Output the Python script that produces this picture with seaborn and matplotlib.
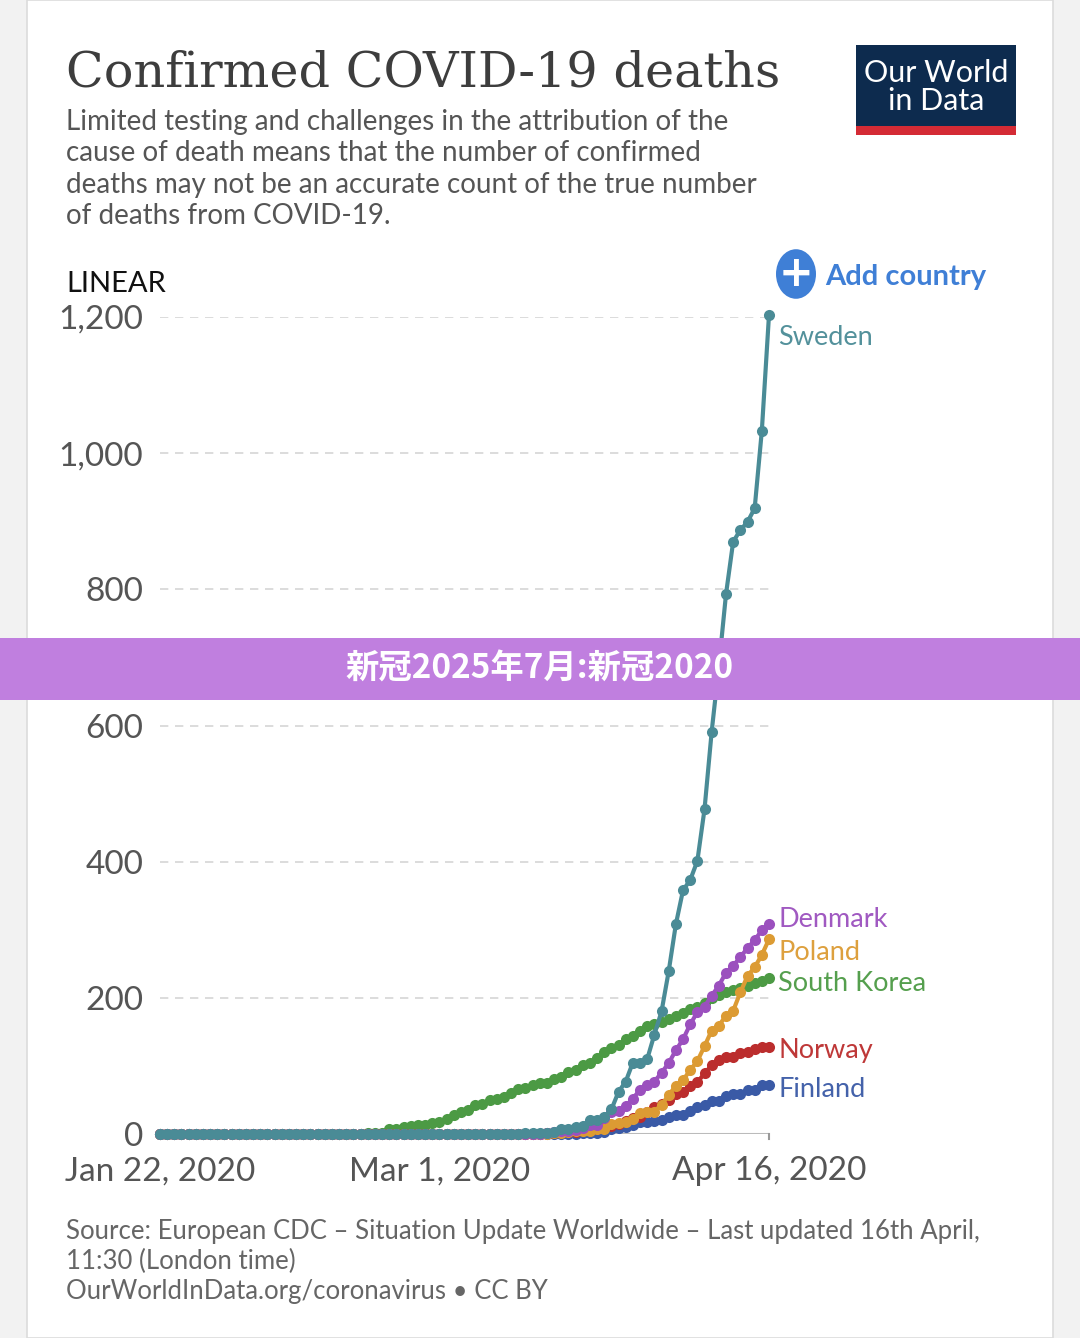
import numpy as np
import pandas as pd
import matplotlib
matplotlib.use("Agg")
import matplotlib.pyplot as plt
from matplotlib.patches import Rectangle
import seaborn as sns

N_DAYS = 86  # Jan 22 .. Apr 16, 2020
x_tick_days = [0, 39, 85]
x_tick_labels = ["Jan 22, 2020", "Mar 1, 2020", "Apr 16, 2020"]
y_ticks = [0, 200, 400, 600, 800, 1000, 1200]
y_tick_labels = ["0", "200", "400", "600", "800", "1,000", "1,200"]

sweden = [0]*51 + [1,1,1,2,3,7,8,10,12,20,21,25,36,62,77,105,105,110,146,180,
                   239,308,358,373,401,477,591,687,793,870,887,899,919,1033,1203]
denmark = [0]*54 + [1,3,4,4,6,9,13,13,24,32,34,41,52,65,72,77,90,104,123,139,
                    161,179,187,203,218,237,247,260,273,285,299,309]
poland = [0]*55 + [1,2,3,5,5,5,7,8,14,16,18,22,31,32,33,43,57,71,79,94,107,129,
                   152,159,174,181,208,232,245,263,286]
south_korea = [0]*29 + [1,2,2,7,8,11,12,13,13,16,17,22,28,32,35,42,44,50,51,54,60,
                        66,67,72,75,75,81,84,91,94,102,104,111,120,126,131,139,144,
                        152,158,162,165,169,174,177,183,186,192,200,204,208,211,214,
                        217,222,225,229]
norway = [0]*54 + [1,1,3,3,3,6,7,7,10,12,14,19,23,25,32,39,44,50,59,62,71,76,89,
                   101,108,113,113,119,120,125,128,128]
finland = [0]*59 + [1,1,1,3,7,9,11,13,17,17,19,20,25,28,28,34,40,42,48,49,56,59,
                    59,64,64,72,72]

countries = ["South Korea", "Finland", "Norway", "Poland", "Denmark", "Sweden"]
series = [south_korea, finland, norway, poland, denmark, sweden]
colors = {"Sweden": "#4a8b96", "Denmark": "#9b50be", "Poland": "#dc9b33",
          "South Korea": "#4c9a44", "Norway": "#bb2d2d", "Finland": "#3a5aa6"}
label_y = {"Sweden": 1170, "Denmark": 315, "Poland": 267, "South Korea": 221,
           "Norway": 123, "Finland": 65}

df = pd.concat([pd.DataFrame({"day": np.arange(N_DAYS), "deaths": s, "country": c})
                for c, s in zip(countries, series)])

fig = plt.figure(figsize=(10.8, 13.38), dpi=100)
fig.patch.set_facecolor("#f2f2f2")
fig.add_artist(Rectangle((27/1080, 0), (1053-27)/1080, 1.0, transform=fig.transFigure,
                         facecolor="white", edgecolor="#dcdcdc", lw=1.2, zorder=0))

ax = fig.add_axes([160/1080, 1-1134/1338, (769-160)/1080, (1134-317)/1338])
ax.set_facecolor("none")
sns.lineplot(data=df, x="day", y="deaths", hue="country", palette=colors,
             marker="o", markersize=8, markeredgewidth=0, linewidth=3,
             ax=ax, legend=False)
ax.set_xlim(0, 85)
ax.set_ylim(0, 1200)
for l in ax.lines:
    l.set_clip_on(False)
for s in ax.spines.values():
    s.set_visible(False)
ax.set_xlabel(""); ax.set_ylabel("")
ax.set_yticks(y_ticks)
ax.set_yticklabels(y_tick_labels, fontsize=24, color="#555555", fontfamily="Lato")
for t in y_ticks[1:]:
    ax.axhline(t, color="#d6d6d6", lw=1.2, ls=(0, (5, 4)), zorder=0)
ax.axhline(0, color="#bbbbbb", lw=1.5, zorder=0)
ax.tick_params(axis="y", length=0, pad=12)
ax.set_xticks(x_tick_days)
ax.set_xticklabels(x_tick_labels, fontsize=24, color="#555555", fontfamily="Lato")
ax.tick_params(axis="x", length=0, pad=16)
ax.plot([85, 85], [0, -8], color="#999999", lw=1.5, clip_on=False)
for c in countries:
    ax.text(86.3, label_y[c], c, color=colors[c], fontsize=19.5, fontfamily="Lato",
            va="center", ha="left", alpha=0.95)

fig.text(66/1080, 1-73/1338, "Confirmed COVID-19 deaths", fontsize=35.5,
         fontfamily="DejaVu Serif", color="#3d3d3d", va="center")
sub = ("Limited testing and challenges in the attribution of the\n"
       "cause of death means that the number of confirmed\n"
       "deaths may not be an accurate count of the true number\n"
       "of deaths from COVID-19.")
fig.text(66/1080, 1-109/1338, sub, fontsize=20, fontfamily="Lato", color="#555555",
         va="top", linespacing=1.25)
fig.text(66/1080, 1-284/1338, "LINEAR", fontsize=21, fontfamily="Lato",
         color="#111111", va="center")
# logo
fig.add_artist(Rectangle((856/1080, 1-135/1338), 160/1080, 90/1338,
                         transform=fig.transFigure, facecolor="#0d2b4e", zorder=2))
fig.add_artist(Rectangle((856/1080, 1-135/1338), 160/1080, 9/1338,
                         transform=fig.transFigure, facecolor="#d42b35", zorder=3))
fig.text(936/1080, 1-87/1338, "Our World\nin Data", fontsize=22, fontfamily="Lato",
         color="white", ha="center", va="center", linespacing=1.0, zorder=4)
# add country
fig.add_artist(plt.Circle((796/1080, 1-274/1338), 20/1080, transform=fig.transFigure,
                          facecolor="#3f7fd6", zorder=3))
fig.text(796/1080, 1-274/1338, "+", fontsize=30, color="white", ha="center",
         va="center", fontweight="bold", zorder=4)
fig.text(825/1080, 1-277/1338, "Add country", fontsize=21, fontfamily="Lato",
         color="#3f7fd6", va="center", fontweight="bold")
src = ("Source: European CDC – Situation Update Worldwide – Last updated 16th April,\n"
       "11:30 (London time)\nOurWorldInData.org/coronavirus • CC BY")
fig.text(66/1080, 1-1219/1338, src, fontsize=18.5, fontfamily="Lato", color="#666666",
         va="top", linespacing=1.25)
# overlay banner
fig.add_artist(Rectangle((0, 1-700/1338), 1, 62/1338, transform=fig.transFigure,
                         facecolor="#c07fdf", zorder=10))
fig.text(0.5, 1-669/1338, "新冠2025年7月:新冠2020", fontsize=24,
         fontfamily=["Noto Sans CJK SC", "Noto Sans CJK JP", "Noto Sans CJK TC",
                     "Noto Sans CJK KR"],
         fontweight="bold", color="white", ha="center", va="center", zorder=11)

fig.savefig("out.png", dpi=100)
